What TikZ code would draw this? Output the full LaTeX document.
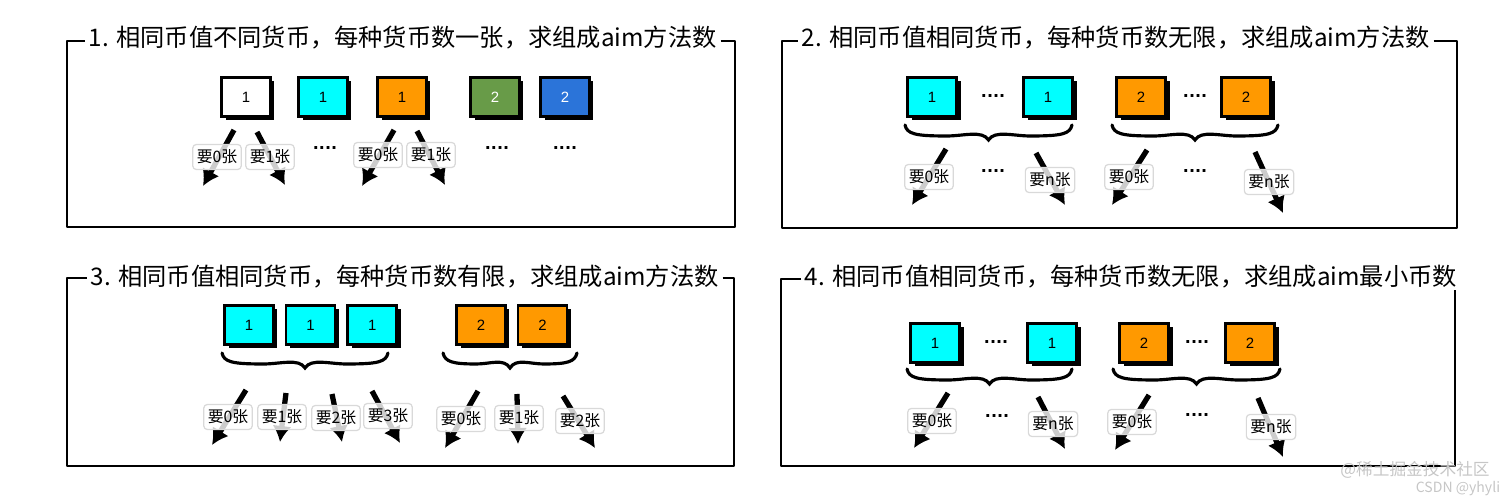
\documentclass[tikz,border=0pt]{standalone}
\usepackage{fontspec}
\setmainfont{Noto Sans CJK SC}
\newfontfamily\numfont{Liberation Sans}
\newfontfamily\dotfont{DejaVu Sans}
\usepackage{tikz}
\usetikzlibrary{positioning, arrows.meta, shadows}

\definecolor{coincyan}{RGB}{0,255,255}
\definecolor{coinorange}{RGB}{255,153,0}
\definecolor{coingreen}{RGB}{104,155,72}
\definecolor{coinblue}{RGB}{43,116,217}

% hand drawn brace: left x, right x, top y (pixel units)
\newcommand{\coinbrace}[3]{%
  \pgfmathsetmacro{\bm}{(#1+#2)/2}%
  \pgfmathsetmacro{\bq}{(#2-#1)/4}%
  \draw[bracepath] (#1,#3) .. controls (#1+2,#3+9) and (#1+10,#3+11) .. (#1+\bq,#3+11)
    .. controls (\bm-0.6*\bq,#3+11) and (\bm-6,#3+5) .. (\bm,#3+15)
    .. controls (\bm+6,#3+5) and (\bm+0.6*\bq,#3+11) .. (#2-\bq,#3+11)
    .. controls (#2-10,#3+11) and (#2-2,#3+9) .. (#2,#3);%
}

\begin{document}
\begin{tikzpicture}[
        x=0.02cm, y=-0.02cm,
        every node/.style={font=\fontsize{9}{10}\selectfont},
        paneltitle/.style={anchor=west, inner xsep=2pt, inner ysep=0pt, font=\fontsize{13.8}{16}\selectfont},
        panelframe/.style={line width=1.6pt, line join=round},
        coin/.style={draw=black, line width=1.5pt, minimum width=0.98cm, minimum height=0.78cm, inner sep=0pt,
            font=\numfont\fontsize{8.5}{9}\selectfont,
            drop shadow={shadow xshift=0.08cm, shadow yshift=-0.08cm, fill=black, opacity=1}},
        pick/.style={draw=gray!30, fill=white, fill opacity=0.8, text opacity=1, rounded corners=2pt, line width=0.7pt,
            minimum height=0.5cm, inner xsep=0.08cm, inner ysep=0pt},
        gap/.style={font=\dotfont\bfseries\fontsize{9}{10}\selectfont, inner sep=0pt},
        edge/.style={line width=3pt, -{Latex[length=0.32cm, width=0.38cm]}},
        bracepath/.style={line width=1.8pt, line cap=round},
        wmtext/.style={text=gray!45, inner sep=0pt}
    ]
        \useasboundingbox (0,0) rectangle (1512,499);

        % Panel 1
        \node[paneltitle] (t1) at (85,38) {1. 相同币值不同货币，每种货币数一张，求组成aim方法数};
        \coordinate (f1) at (67,41);
        \draw[panelframe] (t1.east |- f1) -- (735,41) -- (735,227) -- (67,227) -- (f1) -- (t1.west |- f1);
        \node[coin, fill=white] (p1a) at (246,97) {1};
        \node[coin, fill=coincyan] (p1b) at (323,97) {1};
        \node[coin, fill=coinorange] (p1c) at (402,97) {1};
        \node[coin, fill=coingreen, text=white] (p1d) at (495,97) {2};
        \node[coin, fill=coinblue, text=white] (p1e) at (565,97) {2};
        \coordinate (p1s1) at (234,130); \coordinate (p1e1) at (203,186);
        \coordinate (p1s2) at (257,132); \coordinate (p1e2) at (285,185);
        \coordinate (p1s3) at (394,130); \coordinate (p1e3) at (362,186);
        \coordinate (p1s4) at (417,131); \coordinate (p1e4) at (445,185);
        \draw[edge] (p1s1) -- (p1e1);
        \draw[edge] (p1s2) -- (p1e2);
        \draw[edge] (p1s3) -- (p1e3);
        \draw[edge] (p1s4) -- (p1e4);
        \node[pick] (p1l1) at (217,157) {要0张};
        \node[pick] (p1l2) at (270,157) {要1张};
        \node[pick] (p1l3) at (378,155) {要0张};
        \node[pick] (p1l4) at (431,155) {要1张};
        \node[gap] (p1g1) at (325,150) {····};
        \node[gap] (p1g2) at (497,150) {····};
        \node[gap] (p1g3) at (565,150) {····};

        % Panel 2
        \node[paneltitle] (t2) at (798,38) {2. 相同币值相同货币，每种货币数无限，求组成aim方法数};
        \coordinate (f2) at (782,41);
        \draw[panelframe] (t2.east |- f2) -- (1457,41) -- (1457,228) -- (782,228) -- (f2) -- (t2.west |- f2);
        \node[coin, fill=coincyan] (p2a) at (932,97) {1};
        \node[coin, fill=coincyan] (p2b) at (1048,97) {1};
        \node[coin, fill=coinorange] (p2c) at (1141,97) {2};
        \node[coin, fill=coinorange] (p2d) at (1246,97) {2};
        \node[gap] (p2g1) at (993,98) {····};
        \node[gap] (p2g2) at (1195,98) {····};
        \coinbrace{905}{1072}{125}
        \coinbrace{1112}{1278}{125}
        \coordinate (p2s1) at (946,149); \coordinate (p2e1) at (912,205);
        \coordinate (p2s2) at (1036,153); \coordinate (p2e2) at (1065,205);
        \coordinate (p2s3) at (1147,150); \coordinate (p2e3) at (1112,205);
        \coordinate (p2s4) at (1255,152); \coordinate (p2e4) at (1283,213);
        \draw[edge] (p2s1) -- (p2e1);
        \draw[edge] (p2s2) -- (p2e2);
        \draw[edge] (p2s3) -- (p2e3);
        \draw[edge] (p2s4) -- (p2e4);
        \node[pick] (p2l1) at (929,177) {要0张};
        \node[pick] (p2l2) at (1050,180) {要n张};
        \node[pick] (p2l3) at (1129,177) {要0张};
        \node[pick] (p2l4) at (1269,182) {要n张};
        \node[gap] (p2g3) at (993,173) {····};
        \node[gap] (p2g4) at (1195,173) {····};

        % Panel 3
        \node[paneltitle] (t3) at (87,277) {3. 相同币值相同货币，每种货币数有限，求组成aim方法数};
        \coordinate (f3) at (67,278);
        \draw[panelframe] (t3.east |- f3) -- (734,278) -- (734,466) -- (67,466) -- (f3) -- (t3.west |- f3);
        \node[coin, fill=coincyan] (p3a) at (249,325) {1};
        \node[coin, fill=coincyan, right=0.2cm of p3a] (p3b) {1};
        \node[coin, fill=coincyan, right=0.2cm of p3b] (p3c) {1};
        \node[coin, fill=coinorange] (p3d) at (481,325) {2};
        \node[coin, fill=coinorange, right=0.2cm of p3d] (p3e) {2};
        \coinbrace{222}{388}{353}
        \coinbrace{443}{577}{353}
        \coordinate (p3s1) at (246,390); \coordinate (p3e1) at (212,445);
        \coordinate (p3s2) at (286,393); \coordinate (p3e2) at (280,442);
        \coordinate (p3s3) at (332,394); \coordinate (p3e3) at (342,442);
        \coordinate (p3s4) at (372,391); \coordinate (p3e4) at (400,443);
        \coordinate (p3s5) at (478,391); \coordinate (p3e5) at (445,448);
        \coordinate (p3s6) at (517,394); \coordinate (p3e6) at (518,444);
        \coordinate (p3s7) at (563,396); \coordinate (p3e7) at (595,448);
        \draw[edge] (p3s1) -- (p3e1);
        \draw[edge] (p3s2) -- (p3e2);
        \draw[edge] (p3s3) -- (p3e3);
        \draw[edge] (p3s4) -- (p3e4);
        \draw[edge] (p3s5) -- (p3e5);
        \draw[edge] (p3s6) -- (p3e6);
        \draw[edge] (p3s7) -- (p3e7);
        \node[pick] (p3l1) at (228,417) {要0张};
        \node[pick] (p3l2) at (282,417) {要1张};
        \node[pick] (p3l3) at (336,418) {要2张};
        \node[pick] (p3l4) at (388,416) {要3张};
        \node[pick] (p3l5) at (461,419) {要0张};
        \node[pick] (p3l6) at (519,418) {要1张};
        \node[pick] (p3l7) at (580,421) {要2张};

        % Panel 4
        \node[paneltitle] (t4) at (801,277) {4. 相同币值相同货币，每种货币数无限，求组成aim最小币数};
        \coordinate (f4) at (781,279);
        \draw[panelframe] (t4.west |- f4) -- (f4) -- (781,466) -- (1455,466) -- (1455,290);
        \node[coin, fill=coincyan] (p4a) at (935,343) {1};
        \node[coin, fill=coincyan] (p4b) at (1052,343) {1};
        \node[coin, fill=coinorange] (p4c) at (1144,343) {2};
        \node[coin, fill=coinorange] (p4d) at (1250,343) {2};
        \node[gap] (p4g1) at (996,344) {····};
        \node[gap] (p4g2) at (1197,344) {····};
        \coinbrace{907}{1072}{369}
        \coinbrace{1113}{1280}{369}
        \coordinate (p4s1) at (948,393); \coordinate (p4e1) at (914,448);
        \coordinate (p4s2) at (1038,397); \coordinate (p4e2) at (1065,449);
        \coordinate (p4s3) at (1149,395); \coordinate (p4e3) at (1115,450);
        \coordinate (p4s4) at (1258,398); \coordinate (p4e4) at (1283,457);
        \draw[edge] (p4s1) -- (p4e1);
        \draw[edge] (p4s2) -- (p4e2);
        \draw[edge] (p4s3) -- (p4e3);
        \draw[edge] (p4s4) -- (p4e4);
        \node[pick] (p4l1) at (932,421) {要0张};
        \node[pick] (p4l2) at (1053,424) {要n张};
        \node[pick] (p4l3) at (1132,422) {要0张};
        \node[pick] (p4l4) at (1271,427) {要n张};
        \node[gap] (p4g3) at (997,418) {····};
        \node[gap] (p4g4) at (1197,417) {····};

        % watermark
        \node[wmtext, font=\fontsize{9.5}{10}\selectfont] (wm1) at (1415,470) {@稀土掘金技术社区};
        \node[wmtext, font=\fontsize{8}{9}\selectfont] (wm2) at (1458,489) {CSDN @yhyli};
    \end{tikzpicture}
\end{document}
